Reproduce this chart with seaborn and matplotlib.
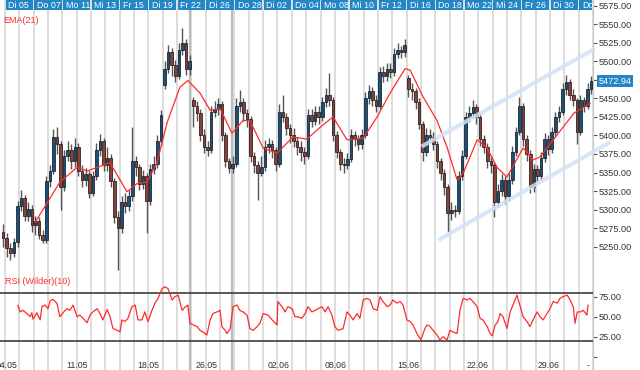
import numpy as np
import pandas as pd
import matplotlib
matplotlib.use("Agg")
import matplotlib.pyplot as plt
import matplotlib.transforms as mtransforms
import seaborn as sns

# candles, 4 per trading day (bar index = x axis)
open_ = [5270, 5262, 5248, 5241, 5256, 5305, 5316, 5292, 5301, 5279,
         5284, 5266, 5259, 5338, 5352, 5398, 5388, 5330, 5372, 5380,
         5365, 5384, 5352, 5340, 5348, 5322, 5345, 5380, 5392, 5360,
         5370, 5338, 5290, 5275, 5310, 5305, 5318, 5365, 5358, 5335,
         5345, 5312, 5355, 5362, 5392, 5468, 5490, 5512, 5495, 5480,
         5515, 5525, 5490, 5448, 5440, 5430, 5400, 5385, 5380, 5432,
         5436, 5442, 5400, 5365, 5356, 5362, 5440, 5445, 5430, 5422,
         5372, 5360, 5350, 5358, 5385, 5388, 5380, 5362, 5432, 5425,
         5410, 5400, 5392, 5385, 5378, 5372, 5428, 5420, 5432, 5425,
         5445, 5455, 5448, 5400, 5378, 5362, 5360, 5368, 5400, 5395,
         5388, 5400, 5450, 5460, 5448, 5440, 5485, 5480, 5490, 5485,
         5510, 5515, 5512, 5478, 5462, 5460, 5445, 5415, 5378, 5400,
         5398, 5388, 5365, 5350, 5330, 5295, 5300, 5298, 5345, 5372,
         5425, 5430, 5438, 5425, 5395, 5385, 5365, 5360, 5310, 5325,
         5340, 5318, 5340, 5378, 5405, 5440, 5395, 5375, 5330, 5355,
         5345, 5370, 5395, 5382, 5405, 5425, 5432, 5462, 5472, 5455,
         5448, 5405, 5448, 5440, 5462]
high = [5280, 5268, 5255, 5262, 5312, 5326, 5320, 5310, 5306, 5292,
        5290, 5272, 5345, 5360, 5408, 5411, 5392, 5380, 5392, 5388,
        5396, 5390, 5360, 5356, 5352, 5352, 5390, 5402, 5396, 5385,
        5375, 5342, 5298, 5318, 5322, 5326, 5411, 5372, 5362, 5354,
        5350, 5362, 5372, 5400, 5434, 5500, 5522, 5518, 5502, 5524,
        5545, 5530, 5508, 5452, 5446, 5436, 5408, 5392, 5440, 5446,
        5450, 5446, 5405, 5370, 5372, 5450, 5461, 5450, 5436, 5426,
        5378, 5366, 5372, 5394, 5396, 5394, 5384, 5443, 5454, 5430,
        5416, 5410, 5398, 5392, 5384, 5436, 5435, 5440, 5440, 5452,
        5464, 5484, 5452, 5406, 5382, 5370, 5376, 5408, 5406, 5400,
        5408, 5458, 5468, 5465, 5454, 5492, 5494, 5498, 5497, 5518,
        5524, 5520, 5530, 5482, 5470, 5464, 5450, 5420, 5410, 5408,
        5404, 5392, 5370, 5355, 5334, 5310, 5306, 5352, 5380, 5432,
        5440, 5448, 5442, 5430, 5400, 5390, 5372, 5364, 5334, 5348,
        5345, 5350, 5386, 5412, 5452, 5444, 5400, 5380, 5362, 5360,
        5378, 5403, 5400, 5412, 5432, 5440, 5470, 5481, 5476, 5462,
        5450, 5455, 5452, 5470, 5480]
low = [5250, 5236, 5232, 5236, 5250, 5298, 5284, 5285, 5270, 5266,
       5260, 5255, 5255, 5330, 5348, 5375, 5299, 5325, 5365, 5355,
       5358, 5345, 5330, 5332, 5315, 5318, 5340, 5372, 5352, 5352,
       5330, 5282, 5218, 5268, 5296, 5298, 5312, 5345, 5326, 5328,
       5268, 5306, 5348, 5356, 5386, 5462, 5484, 5480, 5472, 5476,
       5508, 5482, 5482, 5411, 5420, 5392, 5376, 5372, 5376, 5425,
       5428, 5392, 5358, 5349, 5350, 5358, 5432, 5420, 5412, 5364,
       5350, 5313, 5345, 5352, 5376, 5370, 5352, 5358, 5418, 5400,
       5390, 5384, 5374, 5366, 5362, 5368, 5412, 5414, 5416, 5420,
       5438, 5440, 5392, 5370, 5354, 5350, 5355, 5364, 5386, 5380,
       5382, 5396, 5442, 5440, 5432, 5436, 5472, 5474, 5478, 5480,
       5504, 5504, 5506, 5452, 5448, 5436, 5408, 5366, 5372, 5390,
       5380, 5356, 5340, 5320, 5270, 5286, 5290, 5294, 5340, 5368,
       5418, 5424, 5416, 5386, 5376, 5356, 5350, 5290, 5304, 5318,
       5308, 5312, 5334, 5372, 5400, 5386, 5366, 5322, 5324, 5336,
       5340, 5364, 5374, 5376, 5398, 5418, 5428, 5455, 5448, 5440,
       5388, 5400, 5432, 5435, 5456]
close = [5262, 5248, 5241, 5256, 5305, 5316, 5292, 5301, 5279, 5284,
         5266, 5259, 5338, 5352, 5398, 5388, 5330, 5372, 5380, 5365,
         5384, 5352, 5340, 5348, 5322, 5345, 5380, 5392, 5360, 5370,
         5338, 5290, 5275, 5310, 5305, 5318, 5365, 5358, 5335, 5345,
         5312, 5355, 5362, 5392, 5428, 5490, 5512, 5495, 5480, 5515,
         5525, 5490, 5500, 5440, 5430, 5400, 5385, 5380, 5432, 5436,
         5442, 5400, 5365, 5356, 5362, 5440, 5445, 5430, 5422, 5372,
         5360, 5350, 5358, 5385, 5388, 5380, 5362, 5432, 5425, 5410,
         5400, 5392, 5385, 5378, 5372, 5428, 5420, 5432, 5425, 5445,
         5455, 5448, 5400, 5378, 5362, 5360, 5368, 5400, 5395, 5388,
         5400, 5450, 5460, 5448, 5440, 5485, 5480, 5490, 5485, 5510,
         5515, 5512, 5522, 5462, 5460, 5445, 5415, 5378, 5400, 5398,
         5388, 5365, 5350, 5330, 5295, 5300, 5298, 5345, 5372, 5425,
         5430, 5438, 5425, 5395, 5385, 5365, 5360, 5310, 5325, 5340,
         5318, 5340, 5378, 5405, 5440, 5395, 5375, 5330, 5355, 5345,
         5370, 5395, 5382, 5405, 5425, 5432, 5462, 5472, 5455, 5448,
         5405, 5448, 5440, 5462, 5473]

# EMA(21)
ema_pos = [8.9, 11.1, 13.9, 15.8, 20.6, 23.4, 26.2, 29.8, 32.6, 34.5, 37.3, 40.1,
           42.9, 45.7, 49.3, 51.5, 54.9, 57.7, 60.5, 63.8, 66.9, 68.8, 72.5, 76.4,
           80.8, 84.7, 88.4, 92.0, 95.9, 100.4, 104.3, 107.9, 112.1, 113.5, 117.1,
           121.0, 123.8, 126.6, 128.3, 132.2, 135.0, 137.7, 140.5, 145.0, 147.8,
           149.7, 153.4, 159.2, 163.7]
ema_val = [5283, 5300, 5322, 5337, 5357, 5352, 5357, 5363, 5340, 5324, 5335, 5337,
           5363, 5417, 5465, 5474, 5457, 5434, 5436, 5403, 5420, 5420, 5383, 5376,
           5398, 5395, 5411, 5425, 5394, 5396, 5425, 5457, 5490, 5488, 5452,
           5420, 5384, 5340, 5349, 5394, 5383, 5357, 5344, 5383, 5367,
           5371, 5394, 5430, 5443]

# RSI (Wilder)(10)
rsi_pos = [4.1, 4.7, 5.5, 6.6, 7.5, 8.0, 8.3, 9.4, 10.3, 10.8, 11.7, 12.5, 13.1, 13.9,
           15.0, 15.8, 16.7, 17.8, 18.6, 19.5, 20.6, 21.4, 22.3, 23.4, 24.2, 25.0,
           26.2, 27.0, 27.8, 29.0, 29.8, 30.6, 31.7, 32.6, 33.1, 34.0, 34.8, 35.9,
           36.8, 37.6, 38.7, 39.5, 40.4, 41.5, 42.3, 43.2, 44.3, 45.1, 46.0, 47.1,
           47.9, 48.8, 49.9, 50.7, 51.5, 52.1, 52.9, 54.1, 54.9, 55.7, 56.8, 57.7,
           58.5, 59.6, 60.5, 61.0, 61.9, 62.4, 63.3, 64.1, 65.2, 66.0, 66.9, 68.0,
           68.8, 69.7, 70.8, 71.6, 72.5, 73.9, 75.0, 76.4, 76.6, 77.8, 78.6, 79.4,
           80.6, 81.4, 82.2, 83.3, 84.2, 85.0, 86.1, 87.0, 87.8, 88.9, 89.8, 90.6,
           91.7, 92.5, 93.4, 94.8, 95.9, 96.7, 97.6, 98.7, 99.5, 100.4, 101.5, 102.3,
           103.2, 104.3, 105.1, 105.9, 107.1, 107.9, 108.7, 109.8, 110.7, 111.5,
           112.6, 113.5, 114.3, 115.4, 116.5, 117.6, 118.2, 119.0, 119.9, 121.0,
           121.8, 122.7, 123.8, 124.6, 125.5, 126.6, 127.4, 128.3, 129.4, 130.2,
           131.0, 132.2, 133.0, 133.8, 135.0, 135.8, 136.4, 137.2, 138.0, 138.6,
           139.4, 140.5, 141.4, 142.2, 143.3, 144.2, 145.0, 146.1, 146.9, 147.8,
           148.9, 149.7, 150.6, 151.7, 152.5, 153.4, 154.5, 155.3, 156.1, 157.3,
           158.1, 159.0, 159.5, 160.1, 161.0, 161.8, 162.8, 163.1]
rsi_val = [64.6, 56, 58, 54, 50, 55, 47, 55, 46, 62.5, 64.6, 60, 70, 71.7,
           66.7, 50, 55, 60, 58, 64.6, 50, 52, 48, 42.5, 52, 56,
           60, 54, 46, 59, 50, 35.4, 33.3, 31, 46, 44, 48, 62.5,
           64.6, 46, 46, 56, 44, 58, 66.7, 73, 85, 87.5, 85, 71,
           75, 77, 58, 62, 64.6, 41.7, 40, 37.5, 33, 31, 27, 46,
           54, 56, 58, 37.5, 33, 29, 35, 62.5, 64.6, 58, 56, 52,
           35.4, 33, 37.5, 42, 54, 52, 46, 39.6, 69, 62.5, 56, 62.5,
           60, 50, 50, 48, 54, 62.5, 56, 58, 60, 62.5, 56, 62.5,
           52, 37.5, 33, 35, 56, 52, 46, 54, 48, 71, 73, 71,
           60, 58, 75, 69, 62.5, 64.6, 71, 67, 69, 64.6,
           46, 44, 39.6, 29, 21, 35, 39.6, 38, 33, 27,
           21, 25, 21, 33, 31, 29, 58, 73, 71, 73,
           69, 62.5, 48, 46, 37.5, 29, 26, 39.6, 44, 54,
           50, 35.4, 56, 65, 77, 62.5, 50, 44, 37.5, 46,
           56, 50, 46, 54, 60, 69, 67, 73, 75, 77,
           71, 62.5, 41.7, 56, 56, 58, 52, 64.6]

# trend channel drawn by hand on the chart
chan_up_x, chan_up_y = [116.7, 165.1], [5385, 5517]
chan_lo_x, chan_lo_y = [121.4, 169.3], [5259, 5391]

head_labels = ["Di 05", "Do 07", "Mo 11", "Mi 13", "Fr 15", "Di 19", "Fr 22", "Di 26",
               "Do 28", "Di 02", "Do 04", "Mo 08", "Mi 10", "Fr 12", "Di 16", "Do 18",
               "Mo 22", "Mi 24", "Fr 26", "Di 30", "Do"]
week_labels = ["04.05", "11.05", "18.05", "26.05", "02.06", "08.06", "15.06", "22.06",
               "29.06", "-"]
week_pos = [0.9, 20.7, 40.4, 56.8, 76.9, 92.8, 112.9, 132.4, 152.2, 163.1]
price_ticks = [5250, 5275, 5300, 5325, 5350, 5375, 5400, 5425, 5450, 5475, 5500,
               5525, 5550, 5575]
last_price = 5472.94

df = pd.DataFrame({"open": open_, "high": high, "low": low, "close": close})
df["bar"] = np.arange(len(df))
df["up"] = df["close"] >= df["open"]

sns.set_style("white")
plt.rcParams["font.family"] = ["Liberation Sans", "DejaVu Sans"]

BLUE = "#2586c6"
RED = "#ff2b2b"
GRID = "#dadada"
CHAN = "#d2e2f6"
W = 593 / 640
fig = plt.figure(figsize=(6.4, 3.7), dpi=100)
ax = fig.add_axes([0, 1 - 274 / 370, W, 274 / 370])
ax_rsi = fig.add_axes([0, 0, W, 96 / 370], sharex=ax)
ax_head = fig.add_axes([0, 1 - 10 / 370, W, 10 / 370], sharex=ax)

xmin, xmax = -0.89, 164.5
n_days = 42
for a in (ax, ax_rsi):
    for j in range(n_days):
        a.axvline(0.5 + 4 * j, color=GRID, lw=1.3, zorder=0)
    for k in (52.2, 63.9):
        a.axvline(k, color="#bcbcbc", lw=1.6, zorder=0)

# candles
ax.vlines(df["bar"], df["low"], df["high"], color="#555555", lw=1.0, zorder=2)
body = (df["close"] - df["open"]).abs().clip(lower=1.5)
ax.bar(df["bar"], body, bottom=df[["open", "close"]].min(axis=1), width=0.72,
       color=np.where(df["up"], "#17527f", "#8c4038"), edgecolor="#111111",
       linewidth=0.5, zorder=3)

sns.lineplot(x=ema_pos, y=ema_val, ax=ax, color=RED, lw=0.9, zorder=4)
ax.plot(chan_up_x, chan_up_y, color=CHAN, lw=3.0, alpha=0.85, zorder=5,
        solid_capstyle="butt", clip_on=False)
ax.plot(chan_lo_x, chan_lo_y, color=CHAN, lw=3.0, alpha=0.85, zorder=5,
        solid_capstyle="butt", clip_on=False)

ax.set_xlim(xmin, xmax)
ax.set_ylim(5213.2, 5582.5)
ax.yaxis.tick_right()
ax.set_yticks(price_ticks)
ax.set_yticklabels([f"{p:.2f}" for p in price_ticks])
ax.tick_params(axis="y", length=3, width=0.8, color="#555555", pad=1,
               labelsize=6.6, labelcolor="#333333")
ax.tick_params(axis="x", bottom=False, labelbottom=False)
for s in ("top", "left", "bottom"):
    ax.spines[s].set_visible(False)
ax.spines["right"].set_color("#c8c8c8")
ax.text(0.005, 0.927, "EMA(21)", transform=ax.transAxes, color=RED,
        fontsize=6.5, va="center", ha="left")
ax.annotate(f"{last_price:.2f}", xy=(1.0, last_price), xycoords=("axes fraction", "data"),
            xytext=(4, 0), textcoords="offset points", ha="left", va="center",
            fontsize=6.6, color="white", annotation_clip=False,
            bbox=dict(boxstyle="square,pad=0.15", fc=BLUE, ec="none"))
ax.set_xlabel("")
ax.set_ylabel("")

# RSI panel
sns.lineplot(x=rsi_pos, y=rsi_val, ax=ax_rsi, color=RED, lw=0.9, zorder=4)
ax_rsi.axhline(80, color="#3c3c3c", lw=1.2, zorder=3)
ax_rsi.axhline(20, color="#3c3c3c", lw=1.2, zorder=3)
ax_rsi.set_ylim(-16.6, 103.4)
ax_rsi.yaxis.tick_right()
ax_rsi.set_yticks([0, 25, 50, 75])
ax_rsi.set_yticklabels(["", "25.00", "50.00", "75.00"])
ax_rsi.tick_params(axis="y", length=3, width=0.8, color="#555555", pad=1,
                   labelsize=6.6, labelcolor="#333333")
ax_rsi.tick_params(axis="x", bottom=False, labelbottom=False)
for s in ("top", "left", "bottom"):
    ax_rsi.spines[s].set_visible(False)
ax_rsi.spines["right"].set_color("#c8c8c8")
ax_rsi.text(0.008, 0.917, "RSI (Wilder)(10)", transform=ax_rsi.transAxes, color=RED,
            fontsize=6.5, va="center", ha="left")
trans = mtransforms.blended_transform_factory(ax_rsi.transData, ax_rsi.transAxes)
for pos, lab in zip(week_pos, week_labels):
    ax_rsi.text(pos, 0.05, lab, transform=trans, ha="center", va="center",
                fontsize=6.3, color="#333333")
ax_rsi.set_xlabel("")
ax_rsi.set_ylabel("")

# date header
ax_head.set_facecolor("white")
ax_head.set_ylim(0, 1)
for j, lab in enumerate(head_labels):
    start = 0.5 + 8 * j
    width = 8 if j < len(head_labels) - 1 else 4
    ax_head.bar(start + 0.2, 1, width=width - 0.4, align="edge", color=BLUE, lw=0)
    ax_head.text(start + 0.9, 0.45, lab, color="white", fontsize=6.4,
                 ha="left", va="center")
ax_head.axis("off")
ax_head.set_xlim(xmin, xmax)

fig.savefig("out.png", dpi=100)
